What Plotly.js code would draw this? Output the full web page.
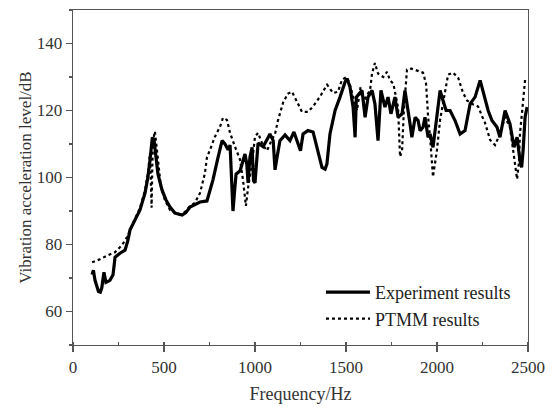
<!DOCTYPE html>
<html>
<head>
<meta charset="utf-8">
<script src="https://cdn.plot.ly/plotly-3.0.1.min.js"></script>
<style>html,body{margin:0;padding:0;background:#fff;}#chart{width:555px;height:406px;}</style>
</head>
<body>
<div id="chart"></div>
<script>
// Experiment results (solid)
const expFreq = [105,112,121,140,150,158,170,181,203,220,231,258,286,302,313,341,368,396,412,423,430,436,445,456,467,489,511,533,560,600,620,643,670,698,736,769,797,819,835,852,863,872,879,888,896,918,945,955,962,972,984,992,1000,1017,1044,1066,1082,1100,1110,1121,1137,1165,1192,1214,1236,1250,1264,1291,1319,1346,1368,1385,1395,1412,1440,1467,1495,1506,1522,1539,1550,1557,1570,1588,1605,1621,1643,1659,1676,1692,1714,1731,1747,1769,1786,1808,1824,1840,1852,1862,1880,1896,1907,1923,1934,1951,1962,1978,2000,2017,2033,2050,2072,2099,2127,2154,2182,2209,2237,2259,2281,2302,2330,2346,2374,2401,2423,2440,2456,2465,2473,2484,2495];
const expLevel = [71,72.3,69.3,66,65.8,67,71.7,68.7,69.3,71,76.2,77.4,78.3,81.3,84.3,87.3,90.3,95.4,100.2,105.2,109,112,111.3,105,101,96.3,93.3,91.2,89.4,88.8,89.5,91.2,92,92.7,93,99.3,106,111,110,108.3,109.7,100,90,96,101,102,107,104,98.4,106,109,99,98.4,110.3,109.2,111.3,113,111,102.3,106,111,112.7,111,113.6,110,108,113,114,113.6,108,103,102.5,104,113,120,124,128.5,129.5,127,121,112,124,125,126,118,124,126,122,111,126,121,124,119,124,118,119,126,121,116,112,118,117,114,115,118,112,113,109,119,126,123,120,120,117,113,114,122,124,129,124,120,117,115,112,120,116,109,112,105,103,108,118,121];
// PTMM results (dotted)
const ptmmFreq = [105,148,192,231,269,297,330,368,396,412,423,428,432,436,440,450,461,472,483,505,533,560,588,615,643,670,698,725,736,753,780,808,824,846,863,890,918,934,950,962,984,1000,1017,1040,1066,1090,1110,1127,1154,1180,1203,1231,1258,1291,1319,1357,1396,1429,1456,1478,1505,1520,1540,1560,1580,1600,1620,1632,1643,1659,1676,1687,1705,1725,1742,1760,1775,1786,1797,1808,1818,1835,1860,1880,1907,1923,1940,1951,1962,1978,2000,2017,2044,2061,2088,2116,2143,2165,2190,2226,2250,2264,2292,2319,2346,2374,2401,2420,2440,2450,2456,2467,2473,2484,2495];
const ptmmLevel = [74.7,75.6,76.8,77.7,79.8,82.2,86.4,90.9,96.3,101.4,107.3,100,91,104,111,113.8,108.3,102.3,97.2,93.3,90.3,89.5,88.8,89.7,91.5,92.4,95.4,101.3,106,108.3,112.2,115.2,117.8,117.2,113.3,109.2,105.3,99.3,91.5,97,104.3,112.2,113.3,110,108,111,113,117.2,122.3,125,125.6,122.6,119.6,119.6,121.2,124.1,127.7,125.2,125.6,129.2,130,128,124,120,127,123,125,126,131,134.2,131,130.7,130,131.5,129,128,124,121,106.2,108,120,132.2,132.5,132.2,131.6,131.3,128,118.2,112,100.2,108.3,117.2,125.3,130.7,131.3,129.8,125.3,123,122,121.2,118,116.3,111.2,109.7,113,118,115,108,99.5,104.3,113.3,119.3,123.2,129.2,129];
const seriesNames = ["Experiment results", "PTMM results"];
const xTickVals = [0,500,1000,1500,2000,2500];
const yTickVals = [60,80,100,120,140];

const font = "Liberation Serif, Times New Roman, serif";
const traces = [
  {x: expFreq, y: expLevel, name: seriesNames[0], type: "scatter", mode: "lines",
   line: {color: "#000", width: 3.2}},
  {x: ptmmFreq, y: ptmmLevel, name: seriesNames[1], type: "scatter", mode: "lines",
   line: {color: "#000", width: 2.2, dash: "dot"}}
];
const axisCommon = {
  showgrid: false, zeroline: false, showline: true, linecolor: "#555", linewidth: 1.3,
  mirror: true, ticks: "outside", ticklen: 6, tickwidth: 1.3, tickcolor: "#555",
  tickfont: {family: font, size: 17, color: "#333"}
};
const layout = {
  width: 555, height: 406,
  margin: {l: 73, r: 27, t: 10, b: 61},
  paper_bgcolor: "#fff", plot_bgcolor: "#fff",
  font: {family: font, color: "#333"},
  showlegend: true,
  legend: {x: 0.545, y: 0.212, xanchor: "left", yanchor: "top", bgcolor: "rgba(0,0,0,0)",
    font: {family: font, size: 18, color: "#222"}, itemwidth: 44, tracegroupgap: 0},
  xaxis: Object.assign({}, axisCommon, {
    range: [0, 2500], tickvals: xTickVals,
    minor: {dtick: 250, ticks: "inside", ticklen: 3, tickcolor: "#555"},
    title: {text: "Frequency/Hz", font: {family: font, size: 18, color: "#333"}, standoff: 11}
  }),
  yaxis: Object.assign({}, axisCommon, {
    range: [50, 150], tickvals: yTickVals,
    minor: {dtick: 10, ticks: "outside", ticklen: 3, tickcolor: "#555"},
    title: {text: "Vibration acceleration level/dB", font: {family: font, size: 17, color: "#333"}, standoff: 0}
  })
};
Plotly.newPlot("chart", traces, layout, {staticPlot: true});
</script>
</body>
</html>
